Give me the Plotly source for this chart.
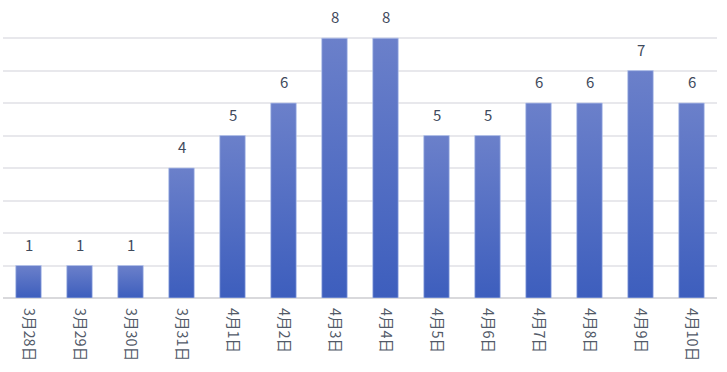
import plotly.graph_objects as go

categories = ["3月28日", "3月29日", "3月30日", "3月31日", "4月1日", "4月2日", "4月3日",
              "4月4日", "4月5日", "4月6日", "4月7日", "4月8日", "4月9日", "4月10日"]
values = [1, 1, 1, 4, 5, 6, 8, 8, 5, 5, 6, 6, 7, 6]

half_width = 0.25
fig = go.Figure()

for i, v in enumerate(values):
    fig.add_trace(go.Scatter(
        x=[i - half_width, i + half_width, i + half_width, i - half_width, i - half_width],
        y=[0, 0, v, v, 0],
        mode="lines",
        fill="toself",
        fillgradient=dict(type="vertical",
                          colorscale=[[0, "#3d5ebd"], [1, "#6b80ca"]],
                          start=0, stop=v),
        line=dict(color="rgba(180,195,235,0.9)", width=0.8),
        hoverinfo="skip",
        showlegend=False,
    ))

for i, v in enumerate(values):
    fig.add_annotation(x=i, y=v, text=str(v), showarrow=False,
                       yanchor="bottom", yshift=9,
                       font=dict(size=15, color="#3f4a5c",
                                 family="Noto Sans CJK JP, Noto Sans, sans-serif"))

fig.update_layout(
    width=727, height=372,
    margin=dict(l=3, r=10, t=5, b=74),
    paper_bgcolor="white", plot_bgcolor="white",
    showlegend=False,
    xaxis=dict(range=[-0.5, len(categories) - 0.5],
               tickmode="array", tickvals=list(range(len(categories))),
               ticktext=categories, tickangle=90,
               ticklabelstandoff=9,
               tickfont=dict(size=14.5, color="#525a68",
                             family="Noto Sans CJK JP, Noto Sans, sans-serif"),
               showgrid=False, zeroline=False, showline=False, ticks=""),
    yaxis=dict(range=[0, 9.02], dtick=1, tick0=0,
               showticklabels=False, showgrid=True,
               gridcolor="#e8e8ec", gridwidth=1.5,
               zeroline=True, zerolinecolor="#d9d9dc", zerolinewidth=1.5,
               showline=False, ticks=""),
)

fig.write_html("out.html")
